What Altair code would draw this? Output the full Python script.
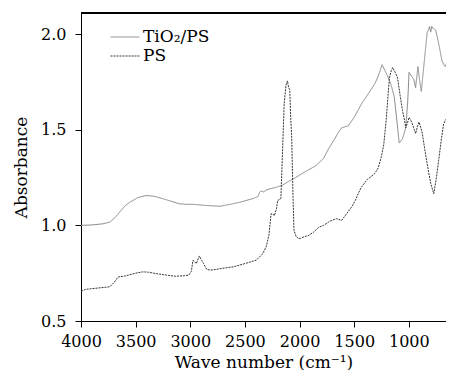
import altair as alt
import pandas as pd

# TiO2/PS spectrum (wavenumber cm-1, absorbance)
tio2_wn = [4000, 3900, 3800, 3736, 3690, 3645, 3600, 3555, 3480, 3404, 3330, 3254, 3180,
           3104, 3040, 2983, 2900, 2800, 2727, 2650, 2550, 2427, 2380, 2366, 2351, 2330,
           2300, 2276, 2220, 2156, 2100, 2035, 1950, 1855, 1780, 1735, 1680, 1645, 1615,
           1585, 1554, 1500, 1434, 1380, 1313, 1280, 1245, 1220, 1193, 1160, 1133, 1110,
           1088, 1060, 1028, 1010, 998, 975, 953, 938, 917, 900, 886, 860, 832, 820, 810,
           800, 790, 780, 772, 755, 742, 720, 697, 680, 667, 652, 637, 625, 616]
tio2_ab = [1.000, 1.002, 1.008, 1.017, 1.040, 1.070, 1.100, 1.120, 1.145, 1.156, 1.152, 1.140,
           1.127, 1.113, 1.110, 1.110, 1.106, 1.102, 1.100, 1.108, 1.120, 1.140, 1.150, 1.173,
           1.180, 1.175, 1.185, 1.190, 1.198, 1.210, 1.230, 1.250, 1.280, 1.310, 1.350, 1.400,
           1.450, 1.486, 1.510, 1.515, 1.520, 1.565, 1.634, 1.680, 1.738, 1.780, 1.840, 1.810,
           1.780, 1.730, 1.670, 1.550, 1.430, 1.450, 1.510, 1.650, 1.800, 1.780, 1.760, 1.720,
           1.830, 1.750, 1.700, 1.850, 2.010, 2.020, 2.040, 2.010, 2.040, 2.030, 2.030, 2.020,
           1.990, 1.930, 1.860, 1.840, 1.830, 1.850, 1.860, 1.890, 1.900]

# PS spectrum
ps_wn = [4000, 3961, 3850, 3736, 3700, 3660, 3600, 3500, 3434, 3380, 3314, 3220, 3134, 3050,
         3014, 2990, 2975, 2960, 2945, 2917, 2895, 2878, 2850, 2818, 2760, 2712, 2607, 2500,
         2396, 2340, 2306, 2280, 2261, 2246, 2231, 2210, 2201, 2171, 2155, 2141, 2125, 2111,
         2100, 2090, 2080, 2072, 2060, 2051, 2030, 2005, 1960, 1915, 1870, 1825, 1780, 1735,
         1705, 1660, 1615, 1570, 1525, 1490, 1464, 1434, 1380, 1313, 1280, 1253, 1230, 1208,
         1190, 1178, 1160, 1148, 1125, 1103, 1080, 1058, 1040, 1028, 1010, 998, 983, 968, 950,
         938, 920, 907, 890, 877, 855, 832, 800, 772, 750, 727, 700, 682, 664, 646, 636, 628, 616]
ps_ab = [0.655, 0.665, 0.672, 0.679, 0.700, 0.730, 0.735, 0.750, 0.757, 0.755, 0.748, 0.740,
         0.734, 0.737, 0.740, 0.760, 0.818, 0.810, 0.800, 0.840, 0.815, 0.800, 0.770, 0.766,
         0.770, 0.775, 0.783, 0.800, 0.818, 0.850, 0.887, 0.950, 1.060, 1.060, 1.050, 1.090,
         1.130, 1.140, 1.400, 1.634, 1.730, 1.755, 1.720, 1.710, 1.550, 1.460, 1.150, 0.974,
         0.940, 0.930, 0.940, 0.948, 0.965, 0.990, 1.000, 1.017, 1.026, 1.035, 1.026, 1.060,
         1.095, 1.130, 1.165, 1.200, 1.240, 1.270, 1.300, 1.356, 1.420, 1.547, 1.680, 1.770,
         1.810, 1.825, 1.800, 1.770, 1.680, 1.600, 1.550, 1.510, 1.540, 1.564, 1.550, 1.530,
         1.500, 1.480, 1.520, 1.540, 1.510, 1.480, 1.400, 1.320, 1.220, 1.165, 1.240, 1.340,
         1.460, 1.530, 1.550, 1.564, 1.530, 1.510, 1.373]

series_names = ["TiO\u2082/PS", "PS"]
x_ticks = [4000, 3500, 3000, 2500, 2000, 1500, 1000]
y_ticks = [0.5, 1.0, 1.5, 2.0]

df = pd.concat([
    pd.DataFrame({"wn": tio2_wn, "ab": tio2_ab, "series": series_names[0], "o": range(len(tio2_wn))}),
    pd.DataFrame({"wn": ps_wn, "ab": ps_ab, "series": series_names[1], "o": range(len(ps_wn))}),
])

FONT = "DejaVu Serif"

# legend symbol: a long horizontal stroke drawn from a unit-size path
leg = alt.Legend(title=None, orient="none", legendX=35, legendY=15,
                 symbolType="M-1.7,0H1.7", symbolSize=289, symbolStrokeWidth=1,
                 labelFont=FONT, labelFontSize=17, labelColor="black",
                 labelOffset=9, rowPadding=2, padding=0)

lines = alt.Chart(df).mark_line(strokeWidth=1, clip=True).encode(
    x=alt.X("wn:Q", scale=alt.Scale(domain=[4000, 660], nice=False, zero=False),
            axis=alt.Axis(values=x_ticks, format="d", title="Wave number (cm\u207b\u00b9)",
                          tickSize=6, labelPadding=6, titlePadding=5,
                          labelOverlap=False, labelFlush=False)),
    y=alt.Y("ab:Q", scale=alt.Scale(domain=[0.5, 2.11], nice=False, zero=False),
            axis=alt.Axis(values=y_ticks, format=".1f", title="Absorbance",
                          tickSize=6, labelPadding=9, titlePadding=10,
                          labelOverlap=False, labelFlush=False)),
    order="o:Q",
    color=alt.Color("series:N", scale=alt.Scale(domain=series_names, range=["#8a8a8a", "#333333"]),
                    legend=leg),
    strokeDash=alt.StrokeDash("series:N", scale=alt.Scale(domain=series_names, range=[[1, 0], [2, 1]]),
                              legend=leg),
)

top_rule = alt.Chart(df).mark_rule(color="black", strokeWidth=1).encode(
    x=alt.value(0), x2=alt.value(400), y=alt.value(0)
)

chart = alt.layer(lines, top_rule).properties(
    width=438, height=362,
    autosize=alt.AutoSizeParams(type="fit", contains="padding"),
    padding={"left": 4, "top": 4, "right": 0, "bottom": 0},
    background="white",
).configure_view(stroke=None).configure_axis(
    grid=False, domainColor="black", tickColor="black", labelColor="black", titleColor="black",
    labelFont=FONT, titleFont=FONT, labelFontSize=16, titleFontSize=17, titleFontWeight="normal",
)

chart.save("out.html", embed_options={"renderer": "svg", "actions": False})
